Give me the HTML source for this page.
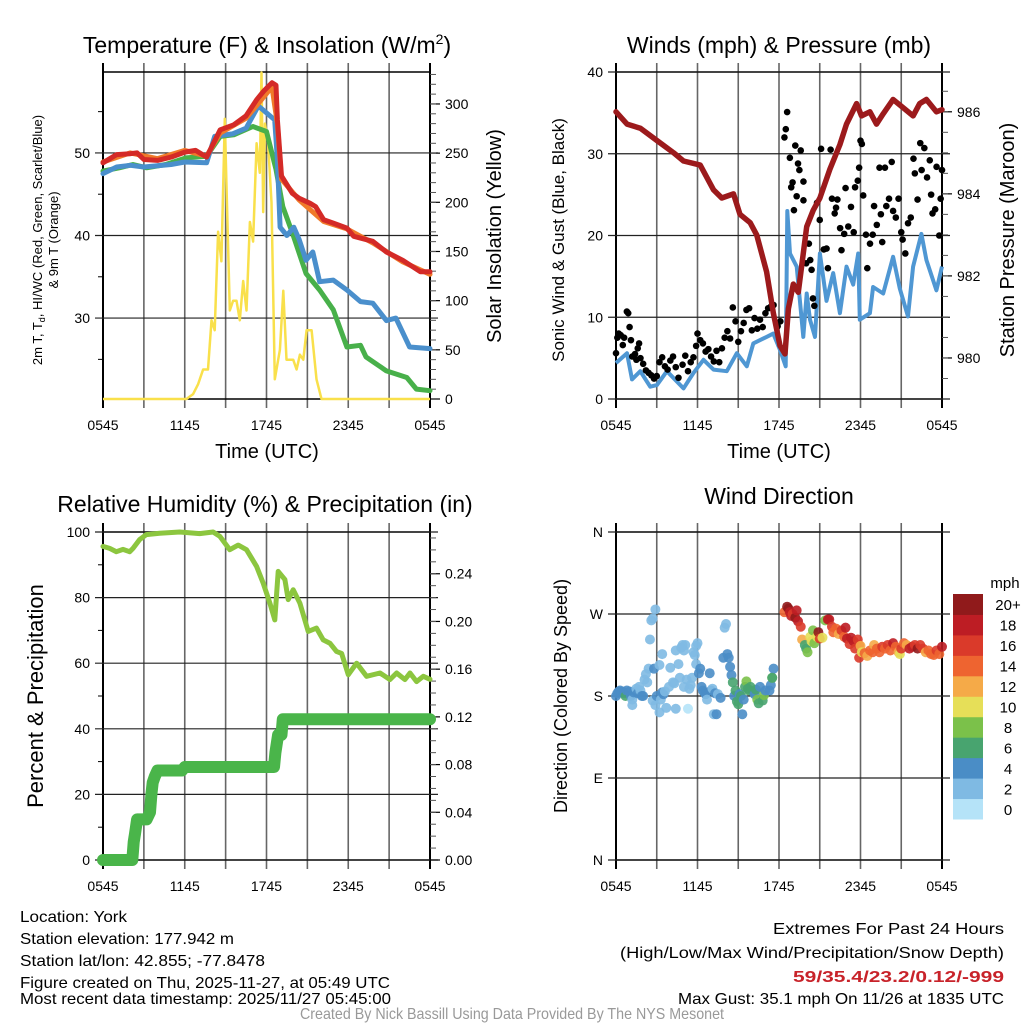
<!DOCTYPE html>
<html><head><meta charset="utf-8"><style>
html,body{margin:0;padding:0;background:#fff;}
svg{display:block;font-family:"Liberation Sans",sans-serif;}
.ft{font-family:"Liberation Sans",sans-serif;font-size:16px;}
</style></head><body>
<svg id="fig" width="1024" height="1024" viewBox="0 0 1024 1024" xmlns="http://www.w3.org/2000/svg">
<g id="layer"></g>
<text x="267" y="53" font-size="23" text-anchor="middle">Temperature (F) &amp; Insolation (W/m<tspan dy="-9" font-size="14">2</tspan><tspan dy="9">)</tspan></text>
<text x="779" y="53" font-size="23" text-anchor="middle">Winds (mph) &amp; Pressure (mb)</text>
<text x="265" y="512" font-size="23" text-anchor="middle">Relative Humidity (%) &amp; Precipitation (in)</text>
<text x="779" y="504" font-size="23" text-anchor="middle">Wind Direction</text>
<text x="267" y="458" font-size="20" text-anchor="middle">Time (UTC)</text>
<text x="779" y="458" font-size="20" text-anchor="middle">Time (UTC)</text>
<text transform="translate(42,240) rotate(-90)" font-size="13" text-anchor="middle">2m T, T<tspan font-size="9" dy="3">d</tspan><tspan dy="-3">, HI/WC (Red, Green, Scarlet/Blue)</tspan></text>
<text transform="translate(58,240) rotate(-90)" font-size="13" text-anchor="middle">&amp; 9m T (Orange)</text>
<text transform="translate(501,236) rotate(-90)" font-size="20" text-anchor="middle">Solar Insolation (Yellow)</text>
<text transform="translate(564,240) rotate(-90)" font-size="17" text-anchor="middle">Sonic Wind &amp; Gust (Blue, Black)</text>
<text transform="translate(1014,240) rotate(-90)" font-size="20" text-anchor="middle">Station Pressure (Maroon)</text>
<text transform="translate(43,696) rotate(-90)" font-size="22" text-anchor="middle">Percent &amp; Precipitation</text>
<text transform="translate(567,696) rotate(-90)" font-size="18" text-anchor="middle">Direction (Colored By Speed)</text>
<text x="1005" y="588" font-size="15" text-anchor="middle">mph</text>
<g class="ft">
<text x="20" y="922" textLength="107" lengthAdjust="spacingAndGlyphs">Location: York</text>
<text x="20" y="944" textLength="214" lengthAdjust="spacingAndGlyphs">Station elevation: 177.942 m</text>
<text x="20" y="966" textLength="245" lengthAdjust="spacingAndGlyphs">Station lat/lon: 42.855; -77.8478</text>
<text x="20" y="988" textLength="370" lengthAdjust="spacingAndGlyphs">Figure created on Thu, 2025-11-27, at 05:49 UTC</text>
<text x="20" y="1004" textLength="371" lengthAdjust="spacingAndGlyphs">Most recent data timestamp: 2025/11/27 05:45:00</text>
</g>
<g class="ft" text-anchor="end">
<text x="1004" y="934" textLength="231" lengthAdjust="spacingAndGlyphs">Extremes For Past 24 Hours</text>
<text x="1004" y="958" textLength="384" lengthAdjust="spacingAndGlyphs">(High/Low/Max Wind/Precipitation/Snow Depth)</text>
<text x="1004" y="982" fill="#c8232a" font-weight="bold" textLength="211" lengthAdjust="spacingAndGlyphs">59/35.4/23.2/0.12/-999</text>
<text x="1004" y="1004" textLength="326" lengthAdjust="spacingAndGlyphs">Max Gust: 35.1 mph On 11/26 at 1835 UTC</text>
</g>
<text x="512" y="1019" class="ft" font-size="13" fill="#999" text-anchor="middle" textLength="424" lengthAdjust="spacingAndGlyphs">Created By Nick Bassill Using Data Provided By The NYS Mesonet</text>
</svg>
<script>
const xTickLabels=["0545","1145","1745","2345","0545"];
const redT=[0,.5,1,2,2.5,3,4,5,6,6.8,7.6,8.6,9.6,10.5,11.3,11.8,12.4,12.7,12.8,13.1,13.9,14.4,15.2,15.6,16.2,16.9,17.9,18.4,19.8,20.8,22,23.3,24];
const redV=[48.8,49.3,49.8,49.9,50,49.2,49.1,49.5,50.1,50.3,49.5,52.8,53.4,54.5,56.5,57.5,58.5,58.2,54,47.2,45.1,44.5,43.9,43.5,41.9,41.5,40.9,39.9,39.3,38,37,35.6,35.6];
const orangeT=[0,2,4,6,7.6,8.6,10.5,12.4,12.8,13.1,14.4,16.2,17.9,19.8,22,24];
const orangeV=[48.9,50,49.3,50.3,49.6,52.4,54.2,58.0,53.5,46.8,44.3,41.7,40.8,39.1,36.8,35.3];
const blueT=[0,1,2,3,5,6,7.6,8.2,9.5,10.5,11.4,12.6,12.8,13,13.5,14,14.4,14.9,15.4,15.9,16.9,17.9,18.9,19.8,20.8,21.5,22.5,24];
const blueV=[47.5,48.3,48.5,48.3,48.6,48.9,48.8,52,52.3,53,55.7,54,49.2,41,40,41,39.5,37,38,34.4,34.6,33.4,32,31.8,29.7,30,26.5,26.3];
const greenT=[0,1.2,2.2,3.2,4.6,6.1,7.6,8.6,9.6,11,12,12.7,13.2,13.9,14.9,15.9,16.9,17.9,18.9,19.3,20.8,22.3,23,24];
const greenV=[47.8,48.2,48.6,48.2,48.6,49.4,49.6,52,52.2,53.2,52.6,48,43.5,40.3,35.4,33.4,31,26.5,26.7,25.3,23.6,22.8,21.4,21.2];
const solarT=[0,6.12,6.61,6.98,7.35,7.71,7.96,8.2,8.45,8.69,8.94,9.06,9.31,9.55,9.8,10.04,10.29,10.53,10.78,11.02,11.27,11.51,11.63,11.76,11.88,12.12,12.37,12.61,12.98,13.23,13.47,13.96,14.21,14.45,14.7,14.94,15.31,15.67,16.04,24];
const solarV=[0,0,5,15,30,30,80,70,170,140,285,220,90,100,100,80,120,90,180,160,260,230,332,190,280,260,200,20,50,110,40,40,30,45,40,70,70,20,0,0];
const presT=[0,.81,1.79,3.01,4.24,4.97,6.2,7.18,7.79,8.65,9.13,9.87,10.36,11.09,11.58,12.07,12.44,12.69,13.05,13.42,14.04,14.52,15.01,15.75,16.48,16.97,17.71,18.07,18.69,19.18,19.67,20.4,21.14,21.87,22.36,22.85,23.59,24];
const presV=[986,985.7,985.6,985.3,985,984.8,984.7,984.1,983.9,984,983.5,983.3,983,982.1,981.1,980.3,980.1,981.2,981.8,981.6,983.2,983.6,983.9,984.6,985.2,985.7,986.2,985.9,986,985.7,985.95,986.3,986.1,985.9,986.2,986.3,986,986.05];
const windT=[0,.81,1.18,1.79,2.52,3.01,3.75,4.97,5.71,6.44,7.18,8.16,8.89,9.63,10.11,11.09,11.58,12.07,12.49,12.61,12.81,13.3,13.79,14.04,14.28,14.65,15.01,15.5,15.99,16.48,16.97,17.46,17.83,17.95,18.69,18.93,19.67,20.4,20.89,21.5,21.87,22.48,22.85,23.59,24];
const windV=[4.4,5.6,2.4,3.4,1.5,1.7,3.4,1.3,3.2,4.8,3.6,3.4,5.6,4,6.8,7.6,8,6,4,23,17.8,16.2,7.6,12.9,9.7,7.6,17.8,12,15.4,10.5,16.2,14,17.8,9.7,10.5,13.7,12.9,17.4,13.5,10.1,16.2,20.2,17,13.3,16.2];
const gustT=[0,.1,.2,.35,.5,.6,.8,.9,1,1.1,1.2,1.4,1.5,1.6,1.7,1.8,2,2.2,2.4,2.6,2.8,3,3.2,3.4,3.6,3.8,4,4.2,4.4,4.6,4.9,5.1,5.3,5.5,5.7,5.9,6,6.2,6.4,6.6,6.8,7,7.2,7.4,7.6,7.8,8,8.2,8.4,8.6,8.8,9,9.2,9.4,9.6,9.8,10,10.2,10.4,10.6,10.8,11,11.2,11.4,11.6,11.9,12.1,12.4,12.5,12.6,12.8,12.9,13,13.1,13.2,13.3,13.4,13.5,13.6,13.8,13.8,14,14.2,14.3,14.4,14.5,14.6,14.8,15,15.1,15.3,15.5,15.6,15.8,15.9,16.1,16.2,16.3,16.5,16.6,16.8,16.9,17.1,17.3,17.5,17.6,17.8,17.9,18,18.1,18.2,18.4,18.5,18.7,18.9,19,19.2,19.4,19.5,19.6,19.8,19.9,20.1,20.3,20.4,20.6,20.8,21,21.1,21.3,21.5,21.7,21.9,22,22.2,22.4,22.5,22.7,22.9,23.1,23.2,23.3,23.5,23.6,23.8,23.9,24];
const gustV=[5.6,7.5,8,7.8,6.6,7.5,10.7,10.5,8.8,7.2,5.2,5.5,4.8,6.2,6.8,5,4.3,3.5,3.2,2.9,2.5,2.8,4.5,5.1,4,3.6,4.7,5.2,3.9,2.6,4.2,5.3,3.4,4.5,5.1,6.5,8,7.2,6.8,5.8,6.1,5.2,4.6,5.9,4.5,6.2,7.5,8.3,7.4,11.2,9.5,7,8.3,9.3,10.9,11.1,8.4,9.9,8.6,9.7,8.8,10.5,11.1,11.3,11.5,8.9,9.5,32,33,35.1,29.5,25.9,26.5,23.1,31,24.8,28.8,28,30.4,26.6,24.3,16.6,19,17,15.8,12.3,11.4,24,21.9,30.6,18.3,18.4,16,30.5,24.5,22.7,23.4,24.4,20.9,18.2,20.2,25.8,21.1,23.5,20.4,25.9,26.7,28.3,31.6,31.2,24.9,20.1,16,19,20.1,23.6,21.3,28.3,22.6,19.2,28.3,23.6,24.5,29,23,22.2,24.5,20.4,19.5,17.8,21.5,22.2,29.4,27.6,24.4,31.3,28,30.7,27.1,29.2,25,22.7,23.2,28.4,20,24.5,28];
const rhT=[0,.49,.98,1.47,1.96,2.2,2.69,3.18,4.16,5.63,7.1,8.08,8.57,9.31,9.92,10.53,11.27,11.76,12.25,12.61,12.86,13.35,13.59,13.96,14.45,15.06,15.67,16.16,16.65,17.14,17.51,18,18.61,19.35,20.33,21.06,21.55,22.16,22.53,23.02,23.51,24];
const rhV=[95.6,95,94,94.7,94,95,97.7,99.2,99.6,100,99.5,100,98.7,94.6,96,94.6,89.5,84.4,78.3,73.2,88,85.5,79.4,82.4,78.3,69.7,70.7,67.1,66.1,63.6,63,56.5,60,56,57,55,57,55,57,54.4,56,55.1];
const precipT=[0,2.15,2.25,2.35,2.5,3.2,3.45,3.55,3.65,3.8,4,5.8,6.0,12.55,12.65,12.85,13.1,13.2,24];
const precipV=[0,0,.015,.022,.034,.034,.04,.055,.065,.07,.075,.075,.078,.078,.09,.105,.105,.118,.118];
const dirT=[0,.1,.2,.3,.4,.5,.6,.7,.8,1,1.1,1.2,1.2,1.3,1.5,1.6,1.7,1.8,1.9,2,2.1,2.2,2.3,2.4,2.5,2.6,2.7,2.9,2.8,2.7,2.9,3,3.2,3.3,3.4,3.5,3.6,3.4,3.2,3.7,3.9,4,4.2,4.3,4.4,4.4,4.6,4.7,4.8,4.9,5,5.1,5.2,5,5.3,5.4,5.5,5.6,5.7,5.8,5.9,5.9,6,6.1,6.2,6.3,6.4,6.5,6.6,6.7,6.9,7,7.1,7.2,7.3,7.4,7.5,7.7,7.9,8,8.1,8.2,8.3,8.4,8.5,8.6,8.7,8.8,8.9,9,9.1,9.2,9.3,9.4,9.5,9.6,9.7,9.8,9.9,10.1,10.2,10.3,10.4,10.5,10.6,10.8,10.9,11,11.3,11.4,11.5,11.6,11.5,12.4,12.6,12.7,12.8,12.9,13,13.2,13.3,13.4,13.6,13.7,13.9,14,14.1,14.3,14.4,14.5,14.6,14.8,14.9,15,15.2,15.4,15.6,15.7,15.9,16,16.2,16.4,16.6,16.8,16.9,17,17.2,17.3,17.5,17.6,17.8,17.9,17.9,18,18.1,18.3,18.5,18.7,18.9,19,19.2,19.4,19.6,19.8,20,20.2,20.4,20.6,20.8,20.9,21,21.2,21.4,21.6,21.8,22,22.2,22.4,22.6,22.8,23,23.2,23.4,23.6,23.8,24];
const dirV=[180,183,185,186,184,185,183,180,186,185,180,176,170,184,188,183,190,186,180,180,198,204,195,210,242,263,265,275,210,175,170,180,162,176,184,182,185,226,214,167,190,211,195,194,166,230,215,200,233,236,230,236,198,190,166,188,192,200,228,225,235,215,238,205,210,190,186,184,182,176,205,186,188,160,183,160,182,178,222,255,259,226,222,212,203,195,180,186,174,171,182,180,160,176,190,196,188,186,190,185,182,187,176,172,190,175,181,186,186,192,200,210,200,272,278,276,272,268,270,266,274,262,256,242,236,232,228,245,240,252,238,245,250,243,244,263,264,264,256,250,254,248,252,245,255,243,237,244,240,232,242,236,222,235,228,227,224,230,228,236,232,228,234,232,236,230,238,234,228,226,232,238,236,232,234,236,232,236,232,228,230,226,225,230,226,234];
const dirS=[3,3,4,4,3,4,3,6,3,4,3,2,2,3,2,4,2,2,3,3,2,2,2,2,2,2,2,2,3,2,2,3,2,2,4,3,2,2,2,2,2,2,2,2,2,2,2,2,2,2,2,2,2,2,0,2,2,2,2,2,2,2,2,3,4,4,4,4,4,2,4,4,2,2,4,4,2,4,4,2,2,4,4,4,4,6,4,6,6,6,4,6,4,4,6,8,6,6,6,6,4,6,8,6,4,6,8,4,4,4,8,4,6,14,20,20,18,18,16,20,18,18,16,12,6,6,8,10,10,8,8,10,20,16,10,8,18,18,16,14,14,12,16,14,18,18,16,18,18,16,16,16,16,12,10,14,12,14,14,12,14,14,16,14,16,14,18,14,12,10,16,14,12,18,18,16,20,16,16,12,14,14,14,16,14,18];
const speedColors=["#b5e3f8","#7fbae3","#4a8dc6","#48a46f","#7bc14a","#e6df58","#f5aa48","#ee6430","#da3a2a","#bd1d24","#901a1b"];
const colorbarLabels=["0","2","4","6","8","10","12","14","16","18","20+"];

const NS="http://www.w3.org/2000/svg";
const layer=document.getElementById('layer');
function mk(tag,attrs,parent){const e=document.createElementNS(NS,tag);for(const k in attrs)e.setAttribute(k,attrs[k]);(parent||layer).appendChild(e);return e;}
function txt(x,y,s,size,anchor,parent){const t=mk('text',{x:x,y:y,'font-size':size,'text-anchor':anchor},parent);t.textContent=s;return t;}
function xScale(P){return t=>P.x0+t/24*(P.x1-P.x0);}
function linScale(d0,d1,r0,r1){return v=>r0+(v-d0)/(d1-d0)*(r1-r0);}

function axesFrame(P,name){
  const g=mk('g',{});
  
  
  const xs=xScale(P);
  for(let i=0;i<=8;i++){
    const x=xs(i*3);
    const l=mk('line',{x1:x,x2:x,y1:P.y0-9,y2:P.y1+9,stroke:(i==0||i==8)?'#000':'#666','stroke-width':(i==0||i==8)?2:1.6},g);
    
    
  }
  mk('line',{x1:P.x0-1,x2:P.x1+1,y1:P.y0,y2:P.y0,stroke:'#000','stroke-width':1.5},g);
  mk('line',{x1:P.x0-1,x2:P.x1+1,y1:P.y1,y2:P.y1,stroke:'#000','stroke-width':1.5},g);
  xTickLabels.forEach((s,i)=>{
    const t=txt(xs(i*6),P.y1+31,s,14,'middle',g);
    
    
  });
  return g;
}
function leftAxis(P,ticks,labels,ys,minor,g,grid){
  ticks.forEach((v,i)=>{
    const y=ys(v);
    if(grid) mk('line',{x1:P.x0-8,x2:P.x1+8,y1:y,y2:y,stroke:'#222','stroke-width':1.2},g);
    else mk('line',{x1:P.x0-8,x2:P.x0,y1:y,y2:y,stroke:'#000','stroke-width':1.2},g);
    const t=txt(P.x0-13,y+5,labels[i],14,'end',g);
    
    
  });
  (minor||[]).forEach(v=>{const y=ys(v);mk('line',{x1:P.x0-5,x2:P.x0,y1:y,y2:y,stroke:'#000','stroke-width':1},g);});
}
function rightAxis(P,ticks,labels,ys,minor,g){
  ticks.forEach((v,i)=>{
    const y=ys(v);
    mk('line',{x1:P.x1,x2:P.x1+10,y1:y,y2:y,stroke:'#000','stroke-width':1.2},g);
    const t=txt(P.x1+15,y+5,labels[i],14,'start',g);
    
    
  });
  minor.forEach(v=>{const y=ys(v);mk('line',{x1:P.x1,x2:P.x1+6,y1:y,y2:y,stroke:'#555','stroke-width':1},g);});
}
function linePath(T,V,xs,ys){return T.map((t,i)=>(i?'L':'M')+xs(t).toFixed(1)+','+ys(V[i]).toFixed(1)).join('');}
function range(a,b,s){const r=[];for(let v=a;v<=b+1e-9;v+=s)r.push(+v.toFixed(4));return r;}

// Panel 1: temperature
const P1={x0:103,x1:430,y0:72,y1:399};
{
  const xs=xScale(P1), yT=linScale(20.2,59.8,P1.y1,P1.y0), yS=linScale(0,332.5,P1.y1,P1.y0);
  const g=axesFrame(P1,'temperature');
  leftAxis(P1,[30,40,50],["30","40","50"],yT,[25,35,45,55],g,true);
  rightAxis(P1,[0,50,100,150,200,250,300],["0","50","100","150","200","250","300"],yS,range(10,330,10),g);
  const s=mk('path',{d:linePath(solarT,solarV,xs,yS),fill:'none',stroke:'#f9e04b','stroke-width':2.5,'stroke-linejoin':'round'});
  
  
  const series=[[greenT,greenV,'#48b04a','dewpoint-line'],[blueT,blueV,'#4a8fcc','heat-index-wind-chill-line'],[orangeT,orangeV,'#f07a2a','9m-temperature-line'],[redT,redV,'#d42a27','2m-temperature-line']];
  series.forEach(sr=>{
    const p=mk('path',{d:linePath(sr[0],sr[1],xs,yT),fill:'none',stroke:sr[2],'stroke-width':5,'stroke-linejoin':'round','stroke-linecap':'round'});
    
    
  });
}
// Panel 2: winds
const P2={x0:616,x1:942,y0:72,y1:399};
{
  const xs=xScale(P2), yW=linScale(0,40,P2.y1,P2.y0), yP=linScale(979,986.97,P2.y1,P2.y0);
  const g=axesFrame(P2,'winds');
  leftAxis(P2,[0,10,20,30,40],["0","10","20","30","40"],yW,[],g,true);
  rightAxis(P2,[980,982,984,986],["980","982","984","986"],yP,range(979.5,986.5,0.5),g);
  const w=mk('path',{d:linePath(windT,windV,xs,yW),fill:'none',stroke:'#4f97d3','stroke-width':4,'stroke-linejoin':'round'});
  
  
  const gg=mk('g',{});
  
  
  gustT.forEach((t,i)=>{
    const c=mk('circle',{cx:xs(t),cy:yW(gustV[i]),r:3.3,fill:'#000'},gg);
    
    
  });
  const p=mk('path',{d:linePath(presT,presV,xs,yP),fill:'none',stroke:'#9c1a1c','stroke-width':5.5,'stroke-linejoin':'round','stroke-linecap':'round'});
  
  
}
// Panel 3: RH
const P3={x0:103,x1:430,y0:532,y1:860};
{
  const xs=xScale(P3), yR=linScale(0,100,P3.y1,P3.y0), yPr=linScale(0,0.275,P3.y1,P3.y0);
  const g=axesFrame(P3,'humidity');
  leftAxis(P3,[0,20,40,60,80,100],["0","20","40","60","80","100"],yR,[10,30,50,70,90],g,true);
  rightAxis(P3,[0,.04,.08,.12,.16,.2,.24],["0.00","0.04","0.08","0.12","0.16","0.20","0.24"],yPr,range(0.01,0.27,0.01),g);
  const r=mk('path',{d:linePath(rhT,rhV,xs,yR),fill:'none',stroke:'#8cc63f','stroke-width':5,'stroke-linejoin':'round','stroke-linecap':'round'});
  
  
  const pp=mk('path',{d:linePath(precipT,precipV,xs,yPr),fill:'none',stroke:'#4ab54a','stroke-width':12,'stroke-linejoin':'round','stroke-linecap':'round'});
  
  
}
// Panel 4: wind direction
const P4={x0:616,x1:942,y0:532,y1:860};
{
  const xs=xScale(P4), yD=linScale(0,360,P4.y1,P4.y0);
  const g=axesFrame(P4,'wind-direction');
  leftAxis(P4,[0,90,180,270,360],["N","E","S","W","N"],yD,[],g,true);
  const dg=mk('g',{});
  
  
  dirT.forEach((t,i)=>{
    const k=Math.min(10,Math.round(dirS[i]/2));
    const c=mk('circle',{cx:xs(t),cy:yD(dirV[i]),r:5,fill:speedColors[k],'fill-opacity':0.9},dg);
    
    
  });
  const cb=mk('g',{});
  
  
  const cbTop=594, cbH=225/11;
  speedColors.forEach((c,i)=>{
    const y=cbTop+(10-i)*cbH;
    const r=mk('rect',{x:953,y:y,width:30,height:cbH+0.5,fill:c},cb);
    
    
    const t=txt(1008,y+cbH/2+6,colorbarLabels[i],15,'middle',cb);
    
    
  });
}
</script>
</body></html>
